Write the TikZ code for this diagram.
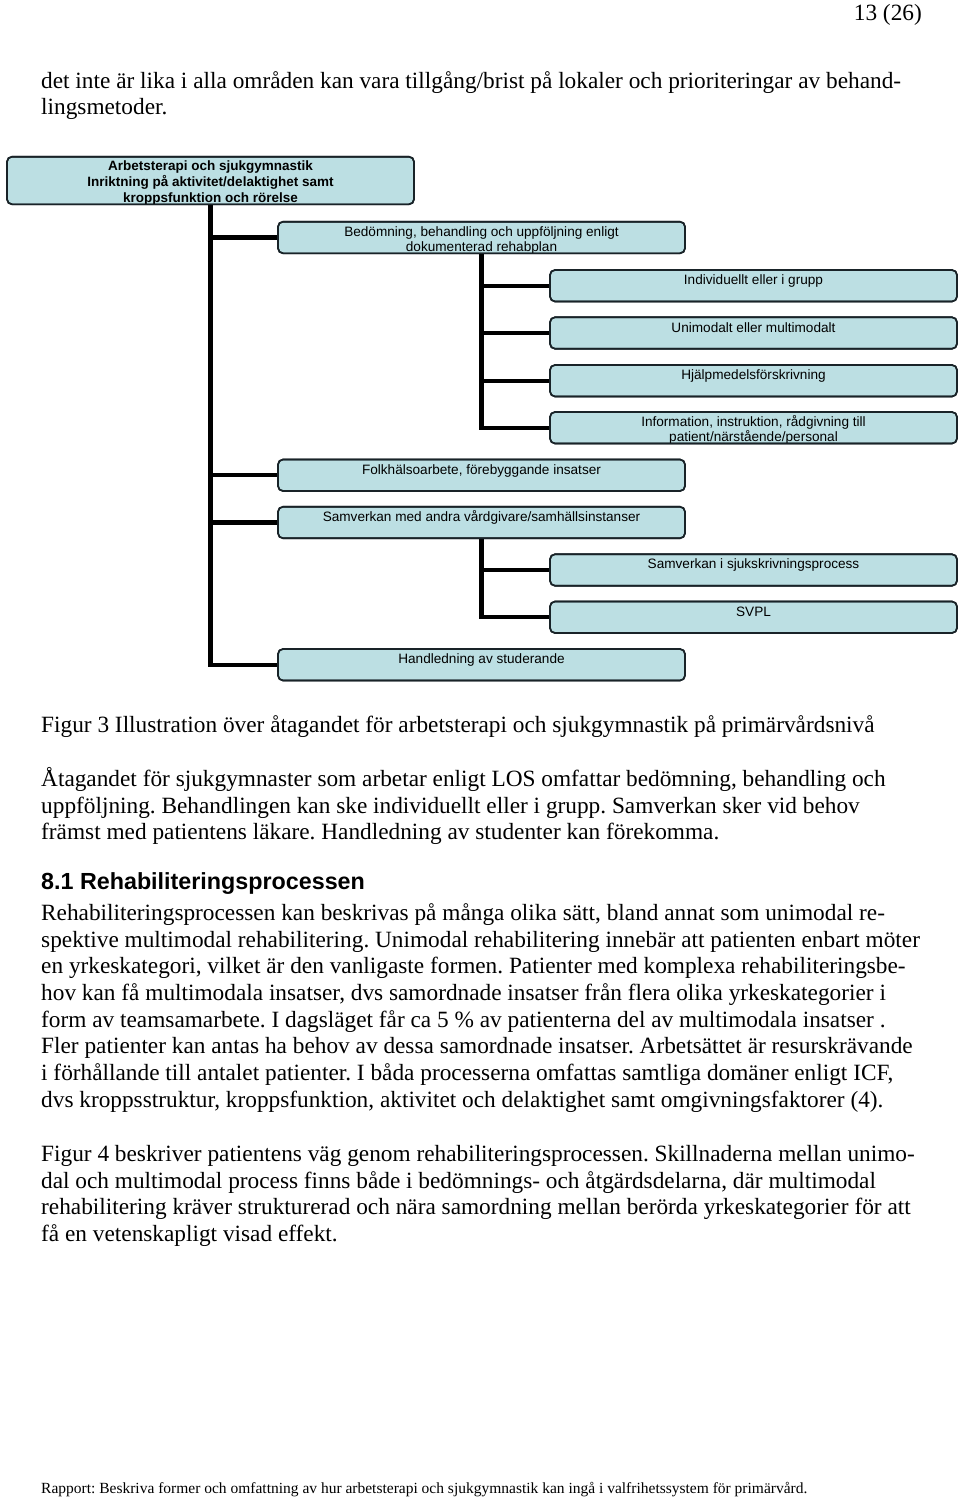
\documentclass[tikz,border=0pt]{standalone}
\usepackage{fontspec}
\setmainfont{Liberation Serif}
\newfontfamily\arialf{Liberation Sans}
\frenchspacing
\definecolor{boxfill}{RGB}{188,223,227}
\definecolor{boxline}{RGB}{25,35,40}
\newcommand\dfont{\arialf\fontsize{13.6}{15}\selectfont}
\newcommand\dbfont{\arialf\bfseries\fontsize{13.5}{15}\selectfont}
\newcommand\bodyfont{\frenchspacing\fontsize{23.3}{26.7}\selectfont}
\newcommand\headfont{\arialf\bfseries\fontsize{23.3}{26.7}\selectfont}
\newcommand\footfont{\frenchspacing\fontsize{15.5}{18}\selectfont}
\newcommand\mkbox[5]{\node[orgbox, minimum width=#4, minimum height=#5] (#1) at (#2,#3) {};}
\newcommand\boxtext[2]{\begin{scope}\clip[rounded corners=5pt] (#1.south west) rectangle (#1.north east); #2 \end{scope}\draw[boxborder] (#1.south west) rectangle (#1.north east);}
\tikzset{
 orgbox/.style={draw=boxline, line width=1.6pt, fill=boxfill, rounded corners=5pt, inner sep=0pt, outer sep=0pt},
 boxborder/.style={draw=boxline, line width=1.6pt, rounded corners=5pt},
 conn/.style={line width=4.4pt, draw=black},
 dtxt/.style={font=\dfont, inner sep=0pt, anchor=base},
 rtxt/.style={font=\dbfont, inner sep=0pt, anchor=base},
 body/.style={font=\bodyfont, inner sep=0pt, anchor=base west},
}
\begin{document}
\begin{tikzpicture}[x=1pt,y=-1pt]
\useasboundingbox[fill=white] (0,0) rectangle (960,1497);
% header
\node[font=\bodyfont, inner sep=0pt, anchor=base east] (pg) at (922,20) {13 (26)};
\node[body] (p1a) at (41,88.5) {det inte är lika i alla områden kan vara tillgång/brist på lokaler och prioriteringar av behand-};
\node[body] (p1b) at (41,114.5) {lingsmetoder.};
% boxes
\mkbox{root}{210.5}{180.5}{407}{47.6}
\mkbox{bed}{481.5}{237.5}{407}{31.6}
\mkbox{ind}{753.5}{285.75}{407}{31.5}
\mkbox{uni}{753.5}{333}{407}{31.5}
\mkbox{hjp}{753.5}{380.75}{407}{31.5}
\mkbox{inf}{753.5}{427.75}{407}{31.5}
\mkbox{folk}{481.5}{475.25}{407}{31.5}
\mkbox{samm}{481.5}{522.5}{407}{31.5}
\mkbox{sami}{753.5}{570}{407}{31.5}
\mkbox{svpl}{753.5}{617.25}{407}{31.5}
\mkbox{hand}{481.5}{664.75}{407}{31.5}
% connectors
\draw[conn] (root.south) |- (bed.west);
\draw[conn] (root.south) |- (folk.west);
\draw[conn] (root.south) |- (samm.west);
\draw[conn] (root.south) |- (hand.west);
\draw[conn] (bed.south) |- (ind.west);
\draw[conn] (bed.south) |- (uni.west);
\draw[conn] (bed.south) |- (hjp.west);
\draw[conn] (bed.south) |- (inf.west);
\draw[conn] (samm.south) |- (sami.west);
\draw[conn] (samm.south) |- (svpl.west);
% box texts
\boxtext{root}{
 \node[rtxt] (rt1) at (210.5,170.7) {Arbetsterapi och sjukgymnastik};
 \node[rtxt] (rt2) at (210.5,186.7) {Inriktning på aktivitet/delaktighet samt};
 \node[rtxt] (rt3) at (210.5,202.5) {kroppsfunktion och rörelse};}
\boxtext{bed}{
 \node[dtxt] (bt1) at (481.5,236.7) {Bedömning, behandling och uppföljning enligt};
 \node[dtxt] (bt2) at (481.5,251.7) {dokumenterad rehabplan};}
\boxtext{ind}{\node[dtxt] (it) at (753.5,284.8) {Individuellt eller i grupp};}
\boxtext{uni}{\node[dtxt] (ut) at (753.5,332) {Unimodalt eller multimodalt};}
\boxtext{hjp}{\node[dtxt] (ht) at (753.5,379.8) {Hjälpmedelsförskrivning};}
\boxtext{inf}{
 \node[dtxt] (ft1) at (753.5,426.7) {Information, instruktion, rådgivning till};
 \node[dtxt] (ft2) at (753.5,441.7) {patient/närstående/personal};}
\boxtext{folk}{\node[dtxt] (fo) at (481.5,474.3) {Folkhälsoarbete, förebyggande insatser};}
\boxtext{samm}{\node[dtxt] (sm) at (481.5,521.5) {Samverkan med andra vårdgivare/samhällsinstanser};}
\boxtext{sami}{\node[dtxt] (si) at (753.5,568.8) {Samverkan i sjukskrivningsprocess};}
\boxtext{svpl}{\node[dtxt] (sv) at (753.5,616) {SVPL};}
\boxtext{hand}{\node[dtxt] (hd) at (481.5,663.7) {Handledning av studerande};}
% caption and body text
\node[body] (cap) at (41,732) {Figur 3 Illustration över åtagandet för arbetsterapi och sjukgymnastik på primärvårdsnivå};
\node[body] (p2a) at (41,786.5) {Åtagandet för sjukgymnaster som arbetar enligt LOS omfattar bedömning, behandling och};
\node[body] (p2b) at (41,813.2) {uppföljning. Behandlingen kan ske individuellt eller i grupp. Samverkan sker vid behov};
\node[body] (p2c) at (41,839.8) {främst med patientens läkare. Handledning av studenter kan förekomma.};
\node[font=\headfont, inner sep=0pt, anchor=base west] (h81) at (41,889) {8.1 Rehabiliteringsprocessen};
\node[body] (p3a) at (41,920.5) {Rehabiliteringsprocessen kan beskrivas på många olika sätt, bland annat som unimodal re-};
\node[body] (p3b) at (41,947.2) {spektive multimodal rehabilitering. Unimodal rehabilitering innebär att patienten enbart möter};
\node[body] (p3c) at (41,973.8) {en yrkeskategori, vilket är den vanligaste formen. Patienter med komplexa rehabiliteringsbe-};
\node[body] (p3d) at (41,1000.5) {hov kan få multimodala insatser, dvs samordnade insatser från flera olika yrkeskategorier i};
\node[body] (p3e) at (41,1027.2) {form av teamsamarbete. I dagsläget får ca 5 \% av patienterna del av multimodala insatser .};
\node[body] (p3f) at (41,1053.8) {Fler patienter kan antas ha behov av dessa samordnade insatser. Arbetsättet är resurskrävande};
\node[body] (p3g) at (41,1080.5) {i förhållande till antalet patienter. I båda processerna omfattas samtliga domäner enligt ICF,};
\node[body] (p3h) at (41,1107.2) {dvs kroppsstruktur, kroppsfunktion, aktivitet och delaktighet samt omgivningsfaktorer (4).};
\node[body] (p4a) at (41,1161.5) {Figur 4 beskriver patientens väg genom rehabiliteringsprocessen. Skillnaderna mellan unimo-};
\node[body] (p4b) at (41,1188.2) {dal och multimodal process finns både i bedömnings- och åtgärdsdelarna, där multimodal};
\node[body] (p4c) at (41,1214.8) {rehabilitering kräver strukturerad och nära samordning mellan berörda yrkeskategorier för att};
\node[body] (p4d) at (41,1241.5) {få en vetenskapligt visad effekt.};
\node[font=\footfont, inner sep=0pt, anchor=base west] (foot) at (41,1493) {Rapport: Beskriva former och omfattning av hur arbetsterapi och sjukgymnastik kan ingå i valfrihetssystem för primärvård.};
\end{tikzpicture}
\end{document}
